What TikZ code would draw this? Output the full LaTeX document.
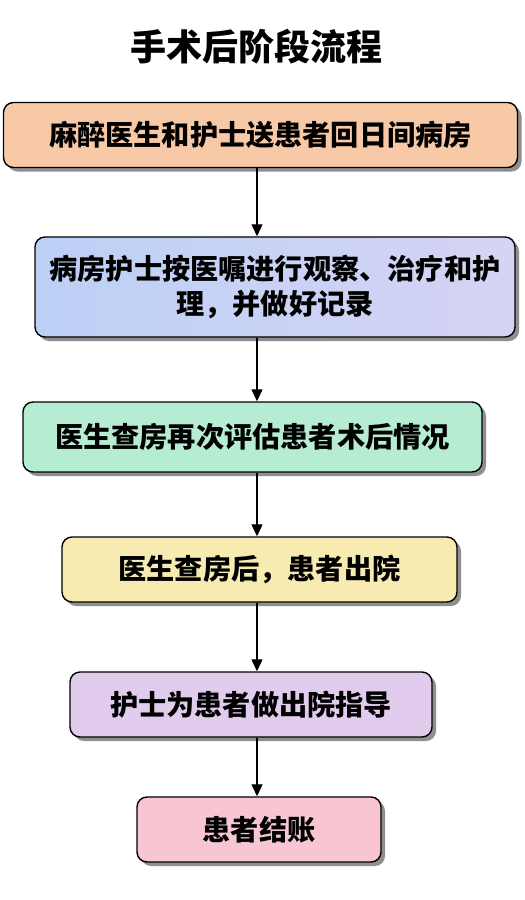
\documentclass[tikz,border=0pt]{standalone}
\usepackage{fontspec}
\setmainfont{Noto Sans CJK SC}
\usetikzlibrary{arrows.meta,shadows}
\definecolor{c1}{HTML}{F8C9A6}
\definecolor{c2a}{HTML}{BCD0F6}
\definecolor{c2b}{HTML}{D6D4F4}
\definecolor{c3}{HTML}{B6ECD2}
\definecolor{c4}{HTML}{F8EBB2}
\definecolor{c5}{HTML}{E1CCEE}
\definecolor{c6}{HTML}{F8C5D3}
\tikzset{
  stepbox/.style={draw=black, line width=1.4pt, rounded corners=10pt,
    font=\fontsize{28.2}{35}\selectfont\bfseries, align=center, inner sep=0pt,
    drop shadow={shadow xshift=4pt, shadow yshift=-4pt, fill=black!55, opacity=0.8}},
  flowarrow/.style={line width=1.3pt, -{Triangle[length=12pt,width=11pt]}}
}
\begin{document}
\begin{tikzpicture}[x=1pt,y=1pt]
\useasboundingbox[fill=white] (0,0) rectangle (525,-900);
\node[font=\fontsize{36}{40}\selectfont\bfseries] (title) at (256,-47) {手术后阶段流程};
\node[stepbox, fill=c1, minimum width=514pt, minimum height=65pt] (b1) at (260.5,-135) {麻醉医生和护士送患者回日间病房};
\node[stepbox, left color=c2a, right color=c2b, minimum width=480pt, minimum height=100pt] (b2) at (275,-287) {病房护士按医嘱进行观察、治疗和护\\理，并做好记录};
\node[stepbox, fill=c3, minimum width=459pt, minimum height=70pt] (b3) at (252.5,-437) {医生查房再次评估患者术后情况};
\node[stepbox, fill=c4, minimum width=395pt, minimum height=65pt] (b4) at (259.5,-569.5) {医生查房后，患者出院};
\node[stepbox, fill=c5, minimum width=362pt, minimum height=65pt] (b5) at (251,-704.5) {护士为患者做出院指导};
\node[stepbox, fill=c6, minimum width=244pt, minimum height=65pt] (b6) at (259,-829.5) {患者结账};
\coordinate (ax) at (257,0);
\draw[flowarrow] (b1.south -| ax) -- (b2.north -| ax);
\draw[flowarrow] (b2.south -| ax) -- (b3.north -| ax);
\draw[flowarrow] (b3.south -| ax) -- (b4.north -| ax);
\draw[flowarrow] (b4.south -| ax) -- (b5.north -| ax);
\draw[flowarrow] (b5.south -| ax) -- (b6.north -| ax);
\end{tikzpicture}
\end{document}
